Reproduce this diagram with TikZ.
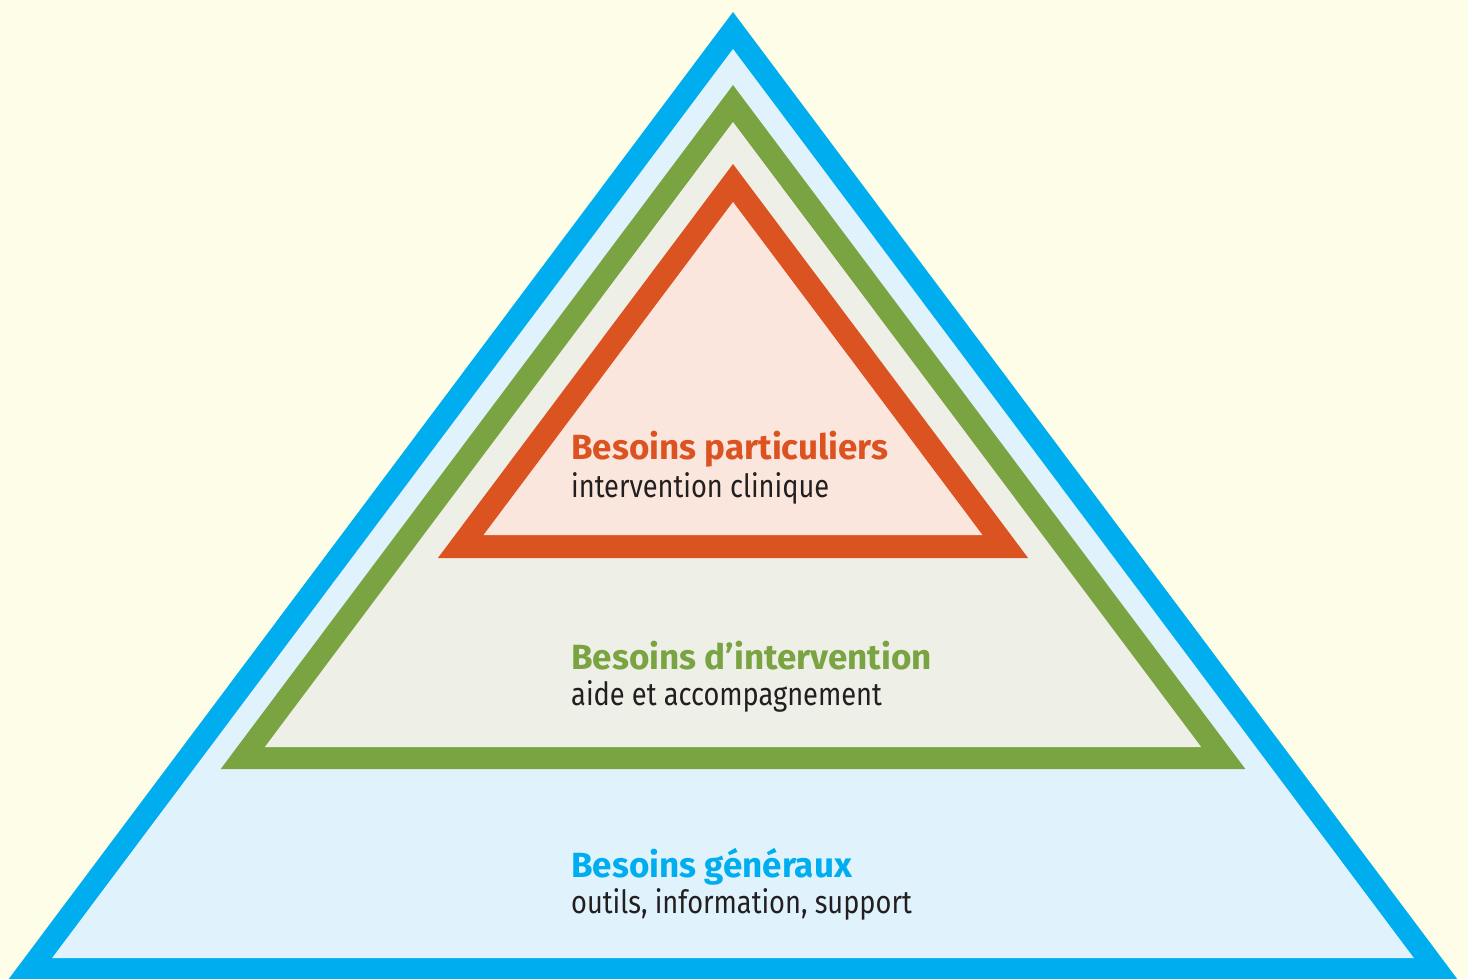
\documentclass[tikz,border=0pt]{standalone}
\usepackage{fontspec}
\setmainfont{Fira Sans}
\newfontfamily\subfont[FakeStretch=0.85]{Fira Sans}
\definecolor{bg}{HTML}{FEFDE7}
\definecolor{bluec}{HTML}{00AEEF}
\definecolor{bluef}{HTML}{E0F3FC}
\definecolor{greenc}{HTML}{7AA342}
\definecolor{greenf}{HTML}{EEEFE6}
\definecolor{orangec}{HTML}{DC5322}
\definecolor{orangef}{HTML}{FBE6DD}
\definecolor{txt}{HTML}{231F20}
\begin{document}
\begin{tikzpicture}[x=1pt,y=-1pt,
  title/.style={anchor=base west,inner sep=0pt,font=\fontsize{35}{38}\selectfont\bfseries},
  sub/.style={anchor=base west,inner sep=0pt,text=txt,font=\subfont\fontsize{32}{36}\selectfont}]
\useasboundingbox (0,0) rectangle (1468,978);
\clip (0,0) rectangle (1468,978);
\fill[bg] (0,0) rectangle (1468,978);
% blue
\fill[bluec] (733,12) -- (733-0.749*988,1000) -- (733+0.749*988,1000) -- cycle;
\fill[bluef] (733,49) -- (733-0.749*909,958) -- (733+0.749*909,958) -- cycle;
% green
\fill[greenc] (733,85) -- (733-0.749*684,769) -- (733+0.749*684,769) -- cycle;
\fill[greenf] (733,122) -- (733-0.749*625,747) -- (733+0.749*625,747) -- cycle;
% orange
\fill[orangec] (733,164) -- (733-0.749*394,558) -- (733+0.749*394,558) -- cycle;
\fill[orangef] (733,202) -- (733-0.749*333,535) -- (733+0.749*333,535) -- cycle;
% texts
\node[title,text=orangec] (t1) at (571,459) {Besoins particuliers};
\node[sub] (s1) at (571,497) {intervention clinique};
\node[title,text=greenc] (t2) at (571,669) {Besoins d’intervention};
\node[sub] (s2) at (571,705) {aide et accompagnement};
\node[title,text=bluec] (t3) at (571,877) {Besoins généraux};
\node[sub] (s3) at (571,913) {outils, information, support};
\end{tikzpicture}
\end{document}
